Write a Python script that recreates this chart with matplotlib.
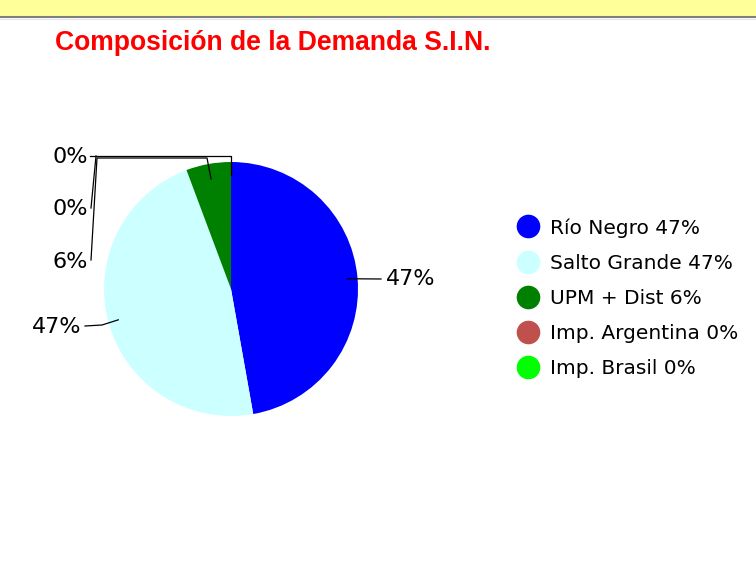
import matplotlib

matplotlib.use("Agg")
import matplotlib.pyplot as plt
from matplotlib.lines import Line2D
from matplotlib.patches import Rectangle
import numpy as np

labels = ["Río Negro", "Salto Grande", "UPM + Dist", "Imp. Argentina", "Imp. Brasil"]
values = [47.2, 47.1, 5.7, 0.0, 0.0]
pct_labels = ["47%", "47%", "6%", "0%", "0%"]
colors = ["#0000FF", "#CCFFFF", "#008000", "#C0504D", "#00FF00"]

W, H = 756, 568
CX, CY, R = 231, 289, 127  # pie centre and radius in pixels
HALF = 220

fig = plt.figure(figsize=(W / 100, H / 100), dpi=100)
fig.patches.append(Rectangle((0, 1 - 16 / H), 1, 16 / H, transform=fig.transFigure,
                             color="#FFFF99", zorder=0))
fig.add_artist(Line2D([0, 1], [1 - 17 / H] * 2, transform=fig.transFigure,
                      color="#808080", lw=1.5))
fig.add_artist(Line2D([0, 1], [1 - 19 / H] * 2, transform=fig.transFigure,
                      color="#E6E6E6", lw=0.8))

fig.text(55 / W, 1 - 43 / H, "Composición de la Demanda S.I.N.", color="#FF0000",
         fontsize=19.1, fontweight="bold", family="Liberation Sans", va="center")

ax = fig.add_axes([(CX - HALF) / W, 1 - (CY + HALF) / H, 2 * HALF / W, 2 * HALF / H])
wedges, _ = ax.pie(values, colors=colors, startangle=90, counterclock=False,
                   radius=1, wedgeprops={"linewidth": 0})
lim = HALF / R
ax.set_xlim(-lim, lim)
ax.set_ylim(-lim, lim)
ax.set_aspect("equal")
ax.axis("off")


def px(x, y):
    """pixel position -> data coords of the pie axes"""
    return (x - CX) / R, (CY - y) / R


def anchor(w, r=0.92):
    a = np.deg2rad((w.theta1 + w.theta2) / 2)
    return r * np.cos(a), r * np.sin(a)


lab_kw = dict(fontsize=16, family="DejaVu Sans", va="center")
line_kw = dict(color="black", lw=0.9)

# Río Negro
ax0 = anchor(wedges[0])
p = px(381, 279)
ax.plot([ax0[0], p[0]], [ax0[1], p[1]], **line_kw)
ax.text(*px(386, 279), pct_labels[0], ha="left", **lab_kw)

# Salto Grande
a1 = anchor(wedges[1])
p1, p2 = px(102, 325), px(85, 326)
ax.plot([a1[0], p1[0], p2[0]], [a1[1], p1[1], p2[1]], **line_kw)
ax.text(*px(81, 327), pct_labels[1], ha="right", **lab_kw)

# UPM + Dist
a2 = anchor(wedges[2], 0.88)
pts = [a2, px(207, 158), px(97, 158), px(91, 260)]
ax.plot([q[0] for q in pts], [q[1] for q in pts], **line_kw)
ax.text(*px(88, 262), pct_labels[2], ha="right", **lab_kw)

# zero slices
a3 = anchor(wedges[3], 0.9)
pts = [a3, px(CX, 155.5), px(90, 155.5)]
ax.plot([q[0] for q in pts], [q[1] for q in pts], **line_kw)
ax.text(*px(88, 157), pct_labels[3], ha="right", **lab_kw)
pts = [px(96, 156), px(91, 208)]
ax.plot([q[0] for q in pts], [q[1] for q in pts], **line_kw)
ax.text(*px(88, 209), pct_labels[4], ha="right", **lab_kw)

handles = [Line2D([], [], marker="o", ls="", markersize=16, markerfacecolor=c,
                  markeredgecolor=c) for c in colors]
fig.legend(handles, [f"{l} {p}" for l, p in zip(labels, pct_labels)],
           loc="upper left", bbox_to_anchor=(518 / W, 1 - 218 / H),
           frameon=False, prop={"family": "DejaVu Sans", "size": 14.5},
           handlelength=0.97, handletextpad=0.64, labelspacing=0.8,
           borderpad=0, borderaxespad=0)

fig.savefig("out.png", dpi=100)
